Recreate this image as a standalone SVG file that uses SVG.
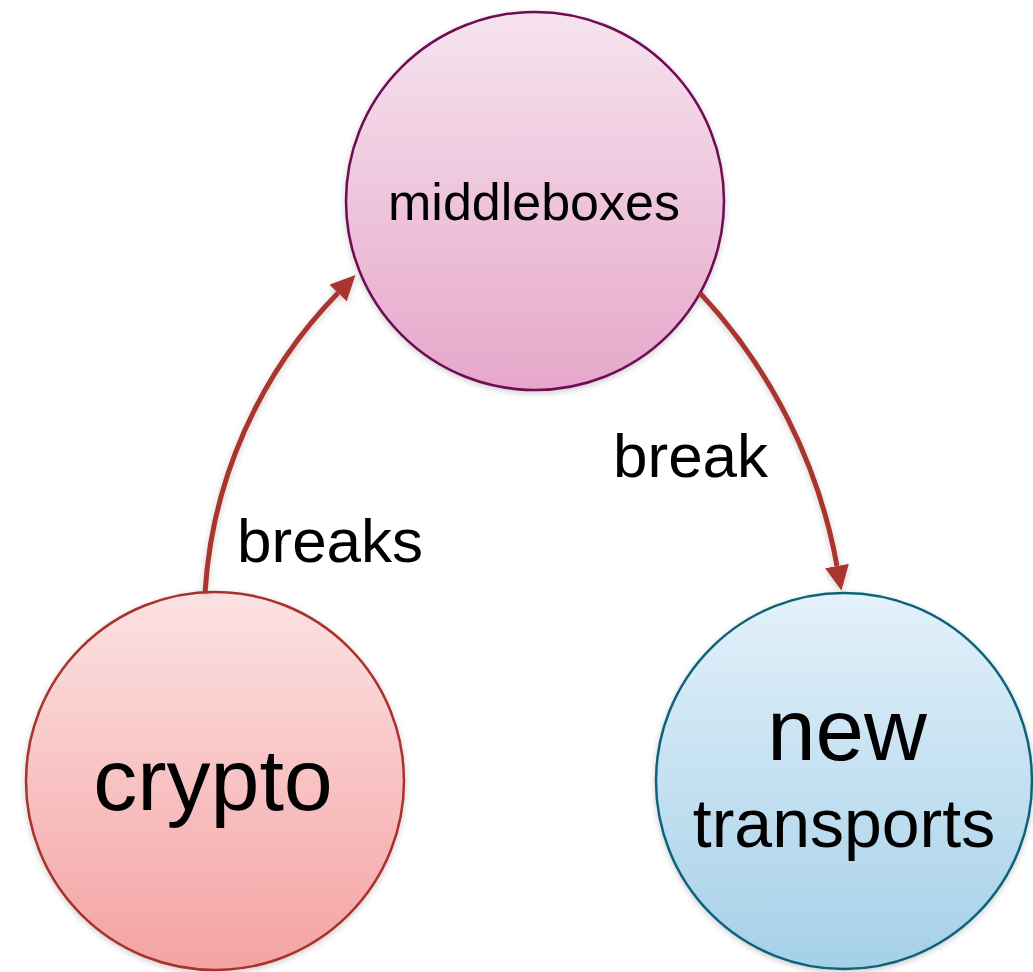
<svg xmlns="http://www.w3.org/2000/svg" width="1033" height="972" viewBox="0 0 1033 972">
  <style>
    text { font-family: "Liberation Sans", Arial, sans-serif; fill: #000; }
    .conn { fill: none; stroke: #A8342E; stroke-width: 5; }
    .node { stroke-width: 2.5; }
  </style>
  <defs>
    <linearGradient id="gMid" x1="0" y1="0" x2="0" y2="1">
      <stop offset="0" stop-color="#F6E3EE"/>
      <stop offset="1" stop-color="#E6A7CA"/>
    </linearGradient>
    <linearGradient id="gCry" x1="0" y1="0" x2="0" y2="1">
      <stop offset="0" stop-color="#FCE2E3"/>
      <stop offset="1" stop-color="#F4A2A2"/>
    </linearGradient>
    <linearGradient id="gNew" x1="0" y1="0" x2="0" y2="1">
      <stop offset="0" stop-color="#E3F1FA"/>
      <stop offset="1" stop-color="#A5D0E8"/>
    </linearGradient>
    <filter id="shadow" x="-10%" y="-10%" width="120%" height="120%">
      <feDropShadow dx="0" dy="2" stdDeviation="3" flood-color="#000" flood-opacity="0.2"/>
    </filter>
    <marker id="arrow" markerUnits="userSpaceOnUse" markerWidth="26" markerHeight="26" refX="0" refY="12" orient="auto">
      <path d="M0,0 L25,12 L0,24 Z" fill="#A8342E"/>
    </marker>
  </defs>

  <g id="middleboxes">
    <circle class="node" cx="535" cy="201" r="189" fill="url(#gMid)" stroke="#6E0C54" filter="url(#shadow)"/>
    <text x="534" y="220" font-size="52" text-anchor="middle">middleboxes</text>
  </g>
  <g id="crypto">
    <circle class="node" cx="215" cy="781" r="189" fill="url(#gCry)" stroke="#A8322D" filter="url(#shadow)"/>
    <text x="213" y="810" font-size="88" text-anchor="middle">crypto</text>
  </g>
  <g id="new-transports">
    <circle class="node" cx="844" cy="781" r="188" fill="url(#gNew)" stroke="#0F6479" filter="url(#shadow)"/>
    <text x="847" y="760" font-size="87" text-anchor="middle">new</text>
    <text x="844" y="847" font-size="68" text-anchor="middle">transports</text>
  </g>

  <g id="connectors" filter="url(#shadow)">
    <path class="conn" d="M205,593 A470,470 0 0 1 338,293" marker-end="url(#arrow)"/>
    <path class="conn" d="M700,293 A540,540 0 0 1 837,566" marker-end="url(#arrow)"/>
  </g>

  <g id="labels">
    <text x="613" y="477" font-size="62">break</text>
    <text x="237" y="562" font-size="62">breaks</text>
  </g>
</svg>
